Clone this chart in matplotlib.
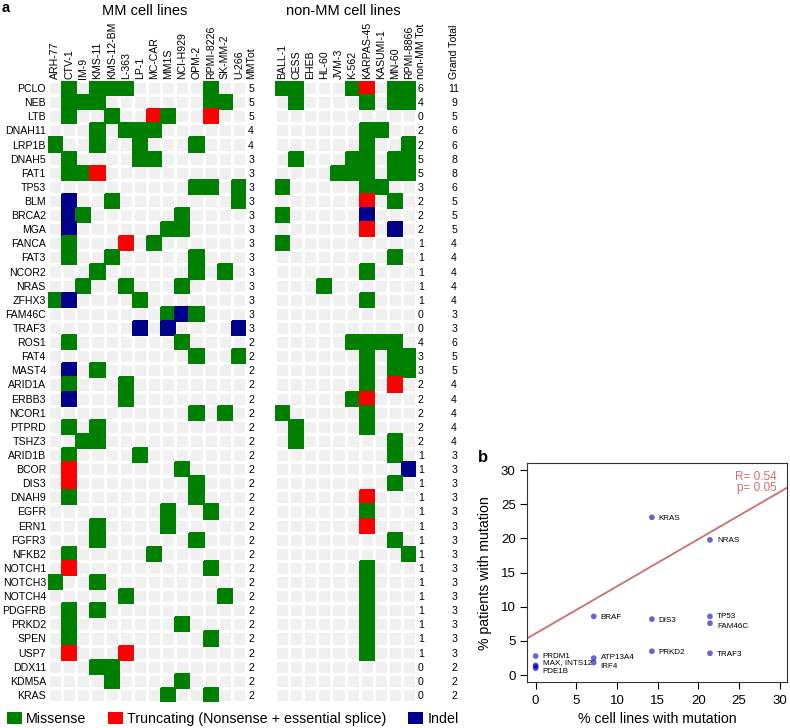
import numpy as np
import matplotlib
matplotlib.use('Agg')
import matplotlib.pyplot as plt
from matplotlib.colors import ListedColormap
from matplotlib.patches import Patch

plt.rcParams['font.family'] = ['Liberation Sans', 'DejaVu Sans']

# ---------------- data: panel a ----------------
genes = ['PCLO', 'NEB', 'LTB', 'DNAH11', 'LRP1B', 'DNAH5', 'FAT1', 'TP53', 'BLM',
         'BRCA2', 'MGA', 'FANCA', 'FAT3', 'NCOR2', 'NRAS', 'ZFHX3', 'FAM46C',
         'TRAF3', 'ROS1', 'FAT4', 'MAST4', 'ARID1A', 'ERBB3', 'NCOR1', 'PTPRD',
         'TSHZ3', 'ARID1B', 'BCOR', 'DIS3', 'DNAH9', 'EGFR', 'ERN1', 'FGFR3',
         'NFKB2', 'NOTCH1', 'NOTCH3', 'NOTCH4', 'PDGFRB', 'PRKD2', 'SPEN', 'USP7',
         'DDX11', 'KDM5A', 'KRAS']

mm_lines = ['ARH-77', 'CTV-1', 'IM-9', 'KMS-11', 'KMS-12-BM', 'L-363', 'LP-1',
            'MC-CAR', 'MM1S', 'NCI-H929', 'OPM-2', 'RPMI-8226', 'SK-MM-2', 'U-266']
nonmm_lines = ['BALL-1', 'CESS', 'EHEB', 'HL-60', 'JVM-3', 'K-562', 'KARPAS-45',
               'KASUMI-1', 'MN-60', 'RPMI-8866']

# M = missense, T = truncating, I = indel, . = none
mm_calls = [
    '.M.MMM.....M..',  # PCLO
    '.MMM.......MM.',  # NEB
    '.M..M..TM..T..',  # LTB
    '...M.MMM......',  # DNAH11
    'M..M..M...M...',  # LRP1B
    '.M....MM......',  # DNAH5
    '.MMT..........',  # FAT1
    '..........MM.M',  # TP53
    '.I..M........M',  # BLM
    '.IM......M....',  # BRCA2
    '.I......MM....',  # MGA
    '.M...T.M......',  # FANCA
    '.M..M.....M...',  # FAT3
    '...M......M.M.',  # NCOR2
    '..M..M...M....',  # NRAS
    'MI....M.......',  # ZFHX3
    '........MIM...',  # FAM46C
    '......I.I....I',  # TRAF3
    '.M.......M....',  # ROS1
    '..........M..M',  # FAT4
    '.I.M..........',  # MAST4
    '.M...M........',  # ARID1A
    '.I...M........',  # ERBB3
    '..........M.M.',  # NCOR1
    '.M.M..........',  # PTPRD
    '..MM..........',  # TSHZ3
    '.M....M.......',  # ARID1B
    '.T.......M....',  # BCOR
    '.T........M...',  # DIS3
    '.M........M...',  # DNAH9
    '........M..M..',  # EGFR
    '...M....M.....',  # ERN1
    '...M......M...',  # FGFR3
    '.M.....M......',  # NFKB2
    '.T.........M..',  # NOTCH1
    'M..M..........',  # NOTCH3
    '.....M......M.',  # NOTCH4
    '.M.M..........',  # PDGFRB
    '.M.......M....',  # PRKD2
    '.M.........M..',  # SPEN
    '.T...T........',  # USP7
    '...MM.........',  # DDX11
    '....M....M....',  # KDM5A
    '........M..M..',  # KRAS
]

nonmm_calls = [
    'MM...MT.MM',  # PCLO
    '.M....M.MM',  # NEB
    '..........',  # LTB
    '......MM..',  # DNAH11
    '......M..M',  # LRP1B
    '.M...MM.MM',  # DNAH5
    '....MMM.MM',  # FAT1
    'M.....MM..',  # TP53
    '......T.M.',  # BLM
    'M.....I...',  # BRCA2
    '......T.I.',  # MGA
    'M.........',  # FANCA
    '........M.',  # FAT3
    '......M...',  # NCOR2
    '...M......',  # NRAS
    '......M...',  # ZFHX3
    '..........',  # FAM46C
    '..........',  # TRAF3
    '.....MMMM.',  # ROS1
    '......M.MM',  # FAT4
    '......M.MM',  # MAST4
    '......M.T.',  # ARID1A
    '.....MT...',  # ERBB3
    'M.....M...',  # NCOR1
    '.M....M...',  # PTPRD
    '.M......M.',  # TSHZ3
    '........M.',  # ARID1B
    '.........I',  # BCOR
    '........M.',  # DIS3
    '......T...',  # DNAH9
    '......M...',  # EGFR
    '......T...',  # ERN1
    '........M.',  # FGFR3
    '.........M',  # NFKB2
    '......M...',  # NOTCH1
    '......M...',  # NOTCH3
    '......M...',  # NOTCH4
    '......M...',  # PDGFRB
    '......M...',  # PRKD2
    '......M...',  # SPEN
    '......M...',  # USP7
    '..........',  # DDX11
    '..........',  # KDM5A
    '..........',  # KRAS
]

mut_names = ['Missense', 'Truncating (Nonsense + essential splice)', 'Indel']
mut_codes = ['M', 'T', 'I']

# ---------------- data: panel b ----------------
sc_genes = ['KRAS', 'NRAS', 'BRAF', 'DIS3', 'TP53', 'FAM46C', 'PRKD2', 'TRAF3',
            'PRDM1', 'MAX', 'INTS12', 'PDE1B', 'ATP13A4', 'IRF4']
sc_labels = ['KRAS', 'NRAS', 'BRAF', 'DIS3', 'TP53', 'FAM46C', 'PRKD2', 'TRAF3',
             'PRDM1', 'MAX, INTS12', '', 'PDE1B', 'ATP13A4', 'IRF4']
pct_cell_lines = [14.29, 21.43, 7.14, 14.29, 21.43, 21.43, 14.29, 21.43,
                  0.0, 0.0, 0.0, 0.0, 7.14, 7.14]
pct_patients = [23.1, 19.8, 8.6, 8.2, 8.6, 7.6, 3.5, 3.2,
                2.8, 1.45, 1.25, 1.0, 2.5, 1.85]
fit_intercept = 6.1
fit_slope = 0.69
stats_text = 'R= 0.54\np= 0.05'

# ---------------- styling ----------------
mut_colors = ['#008000', '#ff0000', '#00008b']
empty_color = '#f0f0f0'
line_color = '#cd6e6e'
label_offsets = {'MAX, INTS12': (5, 2.6), 'PDE1B': (5, -1.6), 'ATP13A4': (5, 1.2),
                 'IRF4': (5, -2.0), 'FAM46C': (5, -1.3), 'TP53': (5, 0.6),
                 'PRDM1': (5, 0.5)}

W, H = 790, 728
fig = plt.figure(figsize=(W / 100, H / 100), dpi=100)


def add_px_axes(l, t, r, b):
    return fig.add_axes([l / W, 1 - b / H, (r - l) / W, (b - t) / H])


def to_matrix(calls):
    arr = np.array([[mut_codes.index(c) if c in mut_codes else -1 for c in row]
                    for row in calls], dtype=float)
    return np.ma.masked_less(arr, 0)


def draw_heat(ax, calls, lines, show_genes):
    mat = to_matrix(calls)
    nr, nc = mat.shape
    ax.pcolormesh(np.zeros((nr, nc)), cmap=ListedColormap([empty_color]),
                  edgecolors='white', linewidth=1.0)
    ax.pcolormesh(mat, cmap=ListedColormap(mut_colors), vmin=-0.5, vmax=2.5,
                  edgecolors='face', linewidth=0.2)
    ax.set_xlim(0, nc)
    ax.set_ylim(nr, 0)
    ax.set_xticks(np.arange(nc) + 0.5)
    ax.set_xticklabels(lines, rotation=90, fontsize=7.6)
    ax.xaxis.tick_top()
    if show_genes:
        ax.set_yticks(np.arange(nr) + 0.5)
        ax.set_yticklabels(genes, fontsize=7.6)
    else:
        ax.set_yticks([])
    ax.tick_params(length=0, pad=1.5)
    for s in ax.spines.values():
        s.set_visible(False)
    return np.ma.count(mat, axis=1)


ax_mm = add_px_axes(48, 81, 246, 702)
ax_nm = add_px_axes(275, 81, 416, 702)
mm_tot = draw_heat(ax_mm, mm_calls, mm_lines, True)
nm_tot = draw_heat(ax_nm, nonmm_calls, nonmm_lines, False)
grand_tot = mm_tot + nm_tot

fs = 7.6
for i in range(len(genes)):
    ax_mm.text(14.36, i + 0.5, str(mm_tot[i]), ha='center', va='center_baseline',
               fontsize=fs, clip_on=False)
    ax_nm.text(10.35, i + 0.5, str(nm_tot[i]), ha='center', va='center_baseline',
               fontsize=fs, clip_on=False)
    ax_nm.text(12.7, i + 0.5, str(grand_tot[i]), ha='center', va='center_baseline',
               fontsize=fs, clip_on=False)
ax_mm.text(14.36, -0.14, 'MMTot', rotation=90, ha='center', va='bottom',
           fontsize=fs, clip_on=False)
ax_nm.text(10.35, -0.14, 'non-MM Tot', rotation=90, ha='center', va='bottom',
           fontsize=fs, clip_on=False)
ax_nm.text(12.7, -0.14, 'Grand Total', rotation=90, ha='center', va='bottom',
           fontsize=fs, clip_on=False)

fig.text(145 / W, 1 - 15 / H, 'MM cell lines', ha='center', va='baseline', fontsize=10.5)
fig.text(343.5 / W, 1 - 15 / H, 'non-MM cell lines', ha='center', va='baseline', fontsize=10.5)
fig.text(2 / W, 1 - 0.5 / H, 'a', ha='left', va='top', fontsize=10.5, fontweight='bold')

handles = [Patch(facecolor=c, edgecolor='none', label=n) for c, n in zip(mut_colors, mut_names)]
fig.legend(handles=handles, loc='center left', bbox_to_anchor=(7 / W, 1 - 719 / H),
           ncol=3, frameon=False, fontsize=10.3, handlelength=1.05, handleheight=0.9,
           handletextpad=0.3, columnspacing=1.5, borderpad=0, borderaxespad=0)

# ---------------- panel b ----------------
axb = add_px_axes(526.7, 463.3, 787, 682)
axb.scatter(pct_cell_lines, pct_patients, s=17, color='#0000b4', alpha=0.6,
            edgecolors='none', zorder=3)
axb.axline((0, fit_intercept), slope=fit_slope, color=line_color, lw=1.3, zorder=2)
for x, y, lab in zip(pct_cell_lines, pct_patients, sc_labels):
    if lab:
        dx, dy = label_offsets.get(lab, (5, 0))
        axb.annotate(lab, (x, y), xytext=(dx, dy), textcoords='offset points',
                     ha='left', va='center_baseline', fontsize=5.8)
axb.text(29.6, 29.9, stats_text, ha='right', va='top', color=line_color,
         fontsize=8.5, linespacing=0.95)
axb.set_xlim(-1.1, 30.9)
axb.set_ylim(-1.0, 31.0)
axb.set_xticks(np.arange(0, 31, 5))
axb.set_yticks(np.arange(0, 31, 5))
axb.tick_params(direction='out', length=5, width=0.8, labelsize=9.5,
                top=False, right=False)
axb.tick_params(axis='x', pad=4.5)
axb.tick_params(axis='y', pad=3)
for s in axb.spines.values():
    s.set_linewidth(0.8)
    s.set_color('#333333')
axb.set_xlabel('% cell lines with mutation', fontsize=10.2)
axb.set_ylabel('% patients with mutation', fontsize=10.2)
axb.xaxis.set_label_coords(0.5, -0.137)
axb.yaxis.set_label_coords(-0.133, 0.5)
fig.text(478 / W, 1 - 461.7 / H, 'b', ha='left', va='baseline', fontsize=12,
         fontweight='bold')

fig.savefig('out.png', dpi=100)
